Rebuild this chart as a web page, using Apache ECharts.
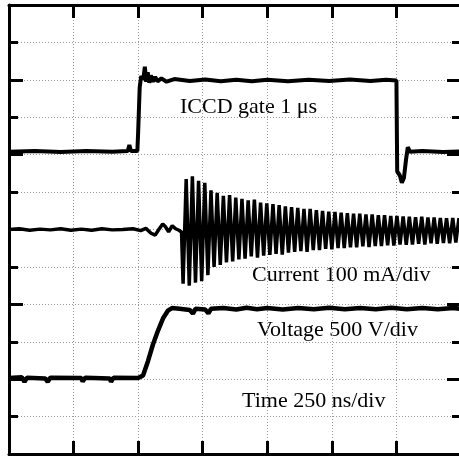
<!DOCTYPE html>
<html>
<head>
<meta charset="utf-8">
<script src="https://cdn.jsdelivr.net/npm/echarts@6/dist/echarts.min.js"></script>
<style>
  html, body { margin: 0; padding: 0; background: #fff; }
  #chart { width: 459px; height: 456px; }
</style>
</head>
<body>
<div id="chart"></div>
<script>
// time in ns (250 ns/div), amplitude in screen divisions (0 = bottom)
const timeTicks = [0, 250, 500, 750, 1000, 1250, 1500, 1750]

// ICCD gate trace
const gatePts = [
  [0, 8.08], [100, 8.1], [200, 8.07], [300, 8.1], [400, 8.08], [460, 8.1], [466, 8.26], [472, 8.1],
  [497, 8.1], [500, 8.6], [506, 9.8], [512, 10.1], [520, 10.0], [526, 10.35], [531, 9.95], [537, 10.2],
  [543, 9.92], [549, 10.12], [557, 9.95], [566, 10.08], [575, 9.96], [590, 10.04], [610, 9.95], [640, 10.02],
  [700, 9.97], [760, 10.01], [820, 9.96], [880, 10.0], [940, 9.96], [1000, 10.0], [1080, 9.96], [1160, 10.0],
  [1240, 9.97], [1320, 10.01], [1400, 9.97], [1460, 10.0], [1500, 9.98], [1503, 7.55], [1513, 7.45],
  [1521, 7.25], [1529, 7.38], [1537, 7.86], [1544, 8.2], [1552, 8.08], [1600, 8.1], [1680, 8.07], [1750, 8.09]
]

// discharge current trace
const currentPts = [
  [0, 6.0], [40, 6.02], [80, 5.98], [120, 6.01], [160, 5.99], [200, 6.02], [240, 5.98], [280, 6.01],
  [320, 5.98], [360, 6.02], [400, 5.99], [440, 6.0], [480, 6.02], [510, 5.97], [530, 6.03], [550, 5.9],
  [566, 5.85], [580, 6.0], [595, 6.15], [605, 6.08], [618, 5.94], [632, 6.1], [645, 6.02], [658, 5.98], [668, 5.93],
  [674, 4.55], [686, 7.35], [698, 4.5], [710, 7.42], [722, 4.58], [734, 7.3], [746, 4.62], [758, 7.25],
  [770, 4.78], [782, 7.05], [794, 5.0], [806, 6.98], [818, 5.05], [830, 6.9], [842, 5.12], [854, 6.92],
  [866, 5.15], [878, 6.85], [890, 5.2], [902, 6.82], [914, 5.22], [926, 6.78], [938, 5.28], [950, 6.8],
  [962, 5.25], [974, 6.72], [986, 5.3], [998, 6.7], [1010, 5.32], [1022, 6.68], [1034, 5.35], [1046, 6.65],
  [1058, 5.33], [1070, 6.62], [1082, 5.38], [1094, 6.6], [1106, 5.4], [1118, 6.58], [1130, 5.42], [1142, 6.55],
  [1154, 5.4], [1166, 6.55], [1178, 5.45], [1190, 6.52], [1202, 5.45], [1214, 6.5], [1226, 5.48], [1238, 6.48],
  [1250, 5.47], [1262, 6.47], [1274, 5.5], [1286, 6.45], [1298, 5.5], [1310, 6.44], [1322, 5.52], [1334, 6.42],
  [1346, 5.52], [1358, 6.42], [1370, 5.55], [1382, 6.4], [1394, 5.53], [1406, 6.4], [1418, 5.56], [1430, 6.38],
  [1442, 5.56], [1454, 6.38], [1466, 5.58], [1478, 6.36], [1490, 5.57], [1502, 6.36], [1514, 5.6], [1526, 6.35],
  [1538, 5.59], [1550, 6.34], [1562, 5.6], [1574, 6.33], [1586, 5.62], [1598, 6.34], [1610, 5.6], [1622, 6.32],
  [1634, 5.63], [1646, 6.32], [1658, 5.62], [1670, 6.31], [1682, 5.64], [1694, 6.3], [1706, 5.63], [1718, 6.31],
  [1730, 5.65], [1742, 6.3], [1750, 6.0]
]

// voltage trace
const voltagePts = [
  [0, 2.03], [50, 2.05], [60, 1.93], [70, 2.04], [140, 2.02], [150, 1.93], [160, 2.04], [280, 2.03],
  [285, 1.94], [295, 2.04], [390, 2.02], [395, 1.93], [405, 2.04], [500, 2.03], [507, 2.04], [519, 2.1],
  [538, 2.48], [557, 2.92], [577, 3.3], [596, 3.62], [615, 3.83], [631, 3.9], [660, 3.88], [700, 3.85],
  [712, 3.75], [722, 3.88], [760, 3.86], [772, 3.76], [782, 3.88], [830, 3.9], [880, 3.86], [920, 3.91],
  [960, 3.87], [1000, 3.9], [1060, 3.86], [1120, 3.9], [1180, 3.87], [1240, 3.91], [1300, 3.87], [1360, 3.9],
  [1420, 3.87], [1480, 3.91], [1540, 3.87], [1600, 3.9], [1660, 3.87], [1720, 3.9], [1750, 3.88]
]

const labels = ['ICCD gate 1 μs', 'Current 100 mA/div', 'Voltage 500 V/div', 'Time 250 ns/div']

const chart = echarts.init(document.getElementById('chart'))

const gridStyle = { color: '#999', width: 1, type: [1, 2] }

const xBase = {
  type: 'value',
  min: timeTicks[0],
  max: timeTicks[timeTicks.length - 1],
  interval: 250,
  axisLine: { onZero: false, lineStyle: { color: '#000', width: 3 } },
  axisTick: { inside: true, length: 13, lineStyle: { color: '#000', width: 3 } },
  axisLabel: { show: false }
}

const yBase = {
  type: 'value',
  min: 0,
  max: 12,
  interval: 2,
  axisLine: { show: true, onZero: false, lineStyle: { color: '#000', width: 3 } },
  axisTick: { inside: true, length: 14, lineStyle: { color: '#000', width: 3 } },
  minorTick: { show: true, splitNumber: 2, length: 9, lineStyle: { color: '#000', width: 3 } },
  axisLabel: { show: false }
}

const trace = (name, pts, w) => ({
  name: name,
  type: 'line',
  data: pts,
  symbol: 'none',
  lineStyle: { color: '#000', width: w },
  z: 3
})

const textEl = (str, x, y) => ({
  type: 'text',
  left: x,
  top: y,
  style: { text: str, fill: '#000', font: '22px "Liberation Serif"' }
})

chart.setOption({
  animation: false,
  backgroundColor: '#fff',
  grid: { left: 9, top: 5, width: 452, height: 449, outerBoundsMode: 'none', containLabel: false },
  xAxis: [
    Object.assign({}, xBase, { position: 'bottom', splitLine: { show: true, lineStyle: gridStyle } }),
    Object.assign({}, xBase, { position: 'top', splitLine: { show: false } })
  ],
  yAxis: [
    Object.assign({}, yBase, {
      position: 'left',
      splitLine: { show: true, lineStyle: gridStyle },
      minorSplitLine: { show: true, lineStyle: gridStyle }
    }),
    Object.assign({}, yBase, { position: 'right', splitLine: { show: false } })
  ],
  series: [
    trace('gate', gatePts, 4),
    trace('current', currentPts, 3.5),
    trace('voltage', voltagePts, 4.5)
  ],
  graphic: [
    textEl(labels[0], 180, 96),
    textEl(labels[1], 252, 264),
    textEl(labels[2], 257, 319),
    textEl(labels[3], 242, 390)
  ]
})
</script>
</body>
</html>
